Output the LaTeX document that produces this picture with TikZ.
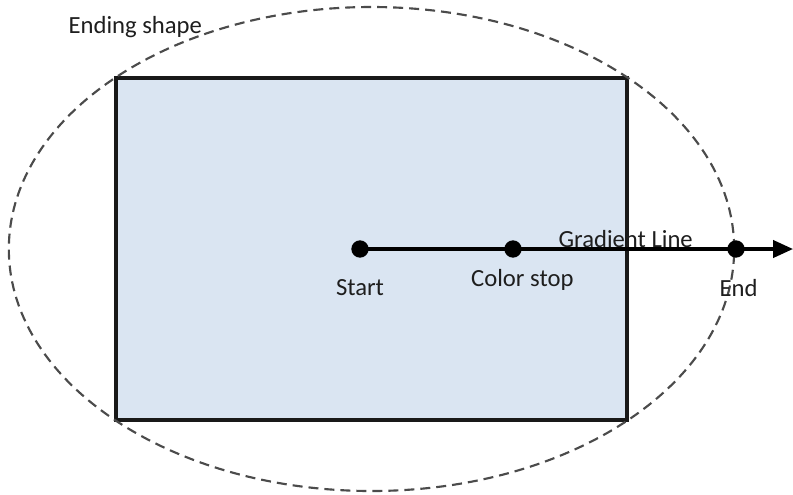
\documentclass[tikz,border=0pt]{standalone}
\usepackage{fontspec}
\setmainfont{Carlito}
\usetikzlibrary{positioning,arrows.meta}
\definecolor{areablue}{RGB}{218,229,242}
\definecolor{dashgray}{RGB}{75,75,75}
\definecolor{textgray}{RGB}{30,30,30}
\tikzset{
  area/.style    = {draw=black!90, line width=2.4pt, fill=areablue, inner sep=0pt},
  endshape/.style = {draw=dashgray, line width=1.6pt, dash pattern=on 7.5pt off 4.5pt},
  dot/.style     = {circle, fill=black, inner sep=0pt, minimum size=13pt},
  lbl/.style     = {font=\fontsize{18.5}{22}\selectfont, text=textgray, inner sep=1pt},
  gline/.style   = {-{Triangle[length=15pt,width=13pt]}, line width=2.4pt},
}

\begin{document}
\begin{tikzpicture}[x=0.75pt, y=-0.75pt]
  \useasboundingbox (0,0) rectangle (793,494);
  % area and ending shape
  \node[area, minimum width=383.25pt, minimum height=256.5pt] (box) at (371.5,249) {};
  \draw[endshape] (box.center) ellipse [x radius=272pt, y radius=181.5pt];
  \node[lbl, anchor=base west] (shapelbl) at (67,33) {Ending shape};
  % gradient line
  \node[dot] (start) at (360,249) {};
  \node[dot] (stop) at (513,249) {};
  \node[dot] (endpt) at (736,249) {};
  \coordinate (tip) at (793,249);
  \draw[gline] (start.center) -- (tip);
  \node[lbl, below=15pt of start] (startlbl) {Start};
  \node[lbl, below=7pt of stop, xshift=7pt] (stoplbl) {Color stop};
  \node[lbl, below=15pt of endpt, xshift=2pt] (endlbl) {End};
  \node[lbl, anchor=base west] (linelbl) at (557,247) {Gradient Line};
\end{tikzpicture}
\end{document}
